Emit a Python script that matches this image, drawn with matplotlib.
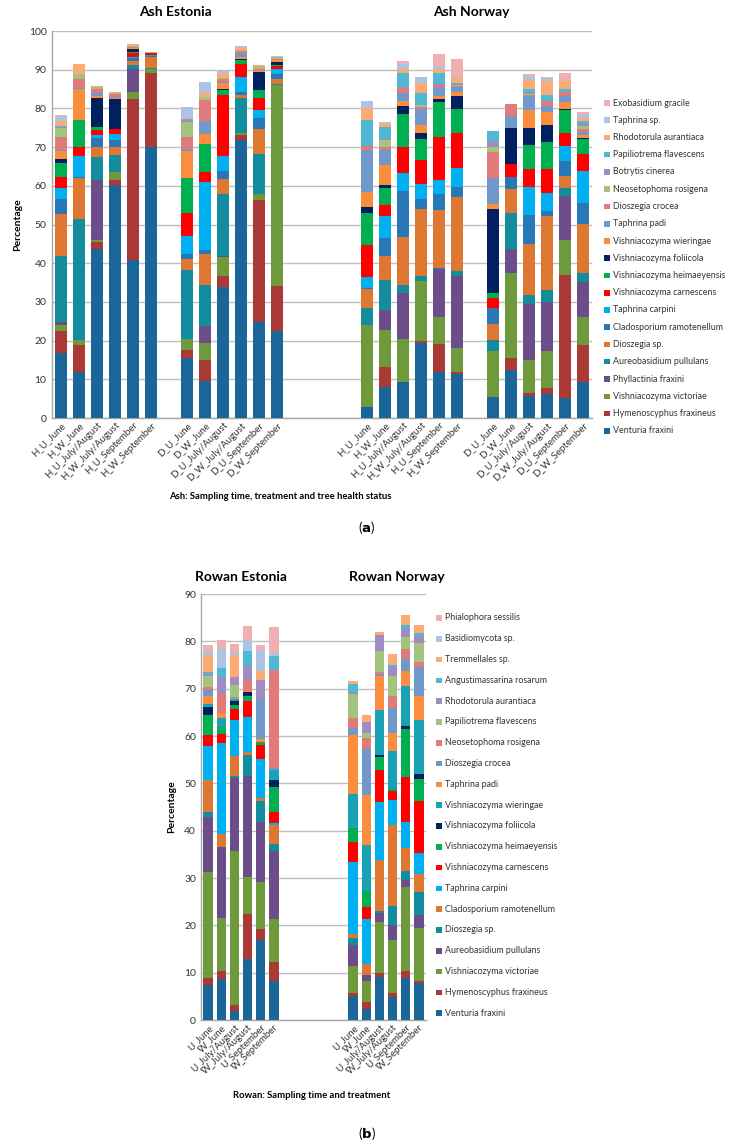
import matplotlib
matplotlib.use('Agg')
import matplotlib.pyplot as plt
from matplotlib.patches import Rectangle
from matplotlib.transforms import ScaledTranslation
import numpy as np

plt.rcParams['font.family'] = ['Lato', 'DejaVu Sans']

W, H = 734, 1145
fig = plt.figure(figsize=(W / 100, H / 100), dpi=100)


def fx(px):
    return px / W


def fy(py):
    return 1 - py / H


# ---------------- Ash data ----------------
ash_categories = ['H_U_June', 'H_W_June', 'H_U_July/August', 'H_W_July/August', 'H_U_September', 'H_W_September', '',
                  'D_U_June', 'D_W_June', 'D_U_July/August', 'D_W_July/August', 'D_U_September', 'D_W_September',
                  '', '', '', '',
                  'H_U_June', 'H_W_June', 'H_U_July/August', 'H_W_July/August', 'H_U_September', 'H_W_September', '',
                  'D_U_June', 'D_W_June', 'D_U_July/August', 'D_W_July/August', 'D_U_September', 'D_W_September']

ash_species = ['Venturia fraxini', 'Hymenoscyphus fraxineus', 'Vishniacozyma victoriae', 'Phyllactinia fraxini',
               'Aureobasidium pullulans', 'Dioszegia sp.', 'Cladosporium ramotenellum', 'Taphrina carpini',
               'Vishniacozyma carnescens', 'Vishniacozyma heimaeyensis', 'Vishniacozyma foliicola',
               'Vishniacozyma wieringae', 'Taphrina padi', 'Dioszegia crocea', 'Neosetophoma rosigena',
               'Botrytis cinerea', 'Papiliotrema flavescens', 'Rhodotorula aurantiaca', 'Taphrina sp.',
               'Exobasidium gracile']

ash_colors = ['#1B6698', '#AB3A37', '#6F9A3B', '#6B4D8A', '#138C9E', '#DE7731', '#2878B8', '#00B0F0',
              '#FF0000', '#00B050', '#002060', '#FB8E3E', '#7098CA', '#E17B7B', '#A3C47C', '#A08BC2',
              '#4FB8D4', '#FDAB74', '#ADC3E2', '#F0B0B2']

ash_venturia = [16.8, 12.0, 43.6, 60.1, 40.7, 69.9, 15.5, 9.6, 33.8, 71.9, 24.7, 22.5,
                2.8, 7.9, 9.3, 19.5, 11.8, 11.4, 5.3, 12.5, 5.8, 6.2, 5.1, 9.2]
ash_hymenoscyphus = [5.8, 6.8, 1.8, 1.3, 41.8, 19.2, 2.1, 5.3, 2.9, 1.1, 31.7, 11.7,
                     0, 5.2, 0, 0.5, 7.4, 0.4, 0, 3.0, 0.6, 1.5, 31.8, 9.7]
ash_victoriae = [1.5, 1.4, 0.5, 2.1, 1.8, 1.0, 2.8, 4.5, 4.9, 0.6, 1.5, 51.8,
                 21.2, 9.7, 11.2, 15.3, 7.0, 6.4, 12.1, 21.9, 8.5, 9.7, 9.1, 7.3]
ash_phyllactinia = [0.7, 0, 15.5, 0, 5.8, 0, 0, 4.4, 0.3, 0, 0, 0,
                    0, 5.1, 11.8, 0, 12.3, 18.6, 0, 6.3, 14.5, 12.7, 11.4, 9.0]
ash_aureobasidium = [17.0, 31.1, 6.1, 4.4, 1.0, 0.4, 17.9, 10.5, 16.0, 9.0, 10.3, 0.3,
                     4.3, 7.8, 2.0, 1.3, 0.2, 1.1, 2.8, 9.4, 2.3, 3.0, 2.1, 2.3]
ash_dioszegia_sp = [11.0, 10.7, 2.4, 2.2, 1.2, 2.7, 2.7, 8.0, 3.8, 0.9, 6.4, 1.3,
                    5.0, 6.2, 12.5, 17.4, 15.0, 19.2, 4.2, 6.1, 13.3, 19.2, 3.0, 12.6]
ash_cladosporium = [3.7, 0.2, 2.4, 1.8, 0.7, 0.4, 1.3, 1.0, 2.2, 0.7, 3.0, 1.3,
                    0.4, 4.6, 11.9, 2.5, 4.3, 2.7, 3.9, 3.2, 7.5, 1.3, 3.9, 5.5]
ash_t_carpini = [3.0, 5.4, 0.7, 1.5, 0.3, 0.2, 4.6, 17.7, 3.8, 4.0, 2.0, 1.3,
                 2.7, 5.6, 4.6, 4.0, 3.6, 4.9, 0, 0, 7.3, 4.5, 3.9, 8.2]
ash_v_carnescens = [2.9, 2.5, 1.3, 1.3, 0.9, 0.4, 6.0, 2.6, 15.7, 3.3, 3.0, 0.7,
                    8.3, 3.0, 6.8, 6.2, 11.0, 8.9, 2.6, 3.3, 4.6, 6.2, 3.4, 4.3]
ash_v_heimaeyensis = [3.6, 6.9, 1.0, 0, 0.3, 0.2, 9.1, 7.1, 1.4, 1.0, 2.2, 0.3,
                      8.2, 4.4, 8.4, 5.3, 9.0, 6.3, 1.4, 0, 6.1, 7.1, 5.9, 3.9]
ash_v_foliicola = [0.9, 0, 7.5, 7.7, 0.8, 0, 0, 0, 0.3, 0.2, 4.7, 0.9,
                   1.6, 0.7, 2.2, 1.6, 0.9, 3.3, 21.7, 9.2, 4.4, 4.2, 0.3, 0.4]
ash_v_wieringae = [2.2, 8.0, 0.4, 0.3, 0.3, 0, 6.9, 2.7, 1.4, 0.7, 0.2, 0.3,
                   3.9, 5.1, 1.2, 2.0, 0.6, 1.1, 1.3, 0, 4.7, 3.5, 1.8, 0.7]
ash_t_padi = [0.2, 0.2, 0.8, 0.3, 0, 0, 0.5, 3.4, 0.3, 1.0, 0, 0.2,
              10.9, 4.0, 2.2, 4.2, 2.5, 1.2, 6.7, 3.2, 3.5, 1.4, 1.5, 0.9]
ash_d_crocea = [3.4, 2.3, 1.1, 0.7, 0.2, 0, 3.1, 5.4, 0.7, 0.4, 0.5, 0.2,
                1.0, 0.6, 1.1, 0.5, 0.6, 0.3, 6.8, 3.1, 0.4, 1.5, 1.1, 0.6]
ash_neosetophoma = [2.3, 1.4, 0.5, 0.3, 0.4, 0.3, 4.1, 0.8, 0.4, 0.3, 0.8, 0.5,
                    0, 2.0, 0.2, 0.7, 0, 0.3, 1.3, 0, 0.3, 0, 0, 0.9]
ash_botrytis = [0.2, 0, 0, 0, 0, 0, 0.4, 0, 0, 0, 0, 0,
                0, 0.4, 0.2, 0, 0, 0.2, 1.4, 0, 0.3, 0, 0, 0.7]
ash_papiliotrema = [0.2, 0, 0, 0, 0, 0, 0.2, 0, 0, 0, 0, 0,
                    6.7, 3.0, 3.5, 3.1, 3.0, 0.2, 2.7, 0, 0.8, 1.5, 0.7, 0.5]
ash_rhodotorula = [1.4, 2.7, 0.2, 0.2, 0.4, 0, 0.4, 1.0, 1.2, 0.4, 0.2, 0,
                   3.2, 0.6, 1.1, 2.4, 1.0, 1.5, 0, 0, 2.4, 3.6, 2.1, 0.8]
ash_taphrina_sp = [1.3, 0, 0, 0, 0, 0, 2.7, 2.7, 0.7, 0.6, 0, 0.3,
                   1.7, 0.3, 1.3, 1.5, 0.7, 0.3, 0, 0, 0.7, 0.8, 0, 0.9]
ash_exobasidium = [0.2, 0, 0, 0, 0, 0, 0, 0, 0, 0, 0, 0,
                   0, 0.4, 0.8, 0, 3.2, 4.4, 0, 0, 0.8, 0.3, 2.1, 0.6]

ash_values = [ash_venturia, ash_hymenoscyphus, ash_victoriae, ash_phyllactinia, ash_aureobasidium,
              ash_dioszegia_sp, ash_cladosporium, ash_t_carpini, ash_v_carnescens, ash_v_heimaeyensis,
              ash_v_foliicola, ash_v_wieringae, ash_t_padi, ash_d_crocea, ash_neosetophoma, ash_botrytis,
              ash_papiliotrema, ash_rhodotorula, ash_taphrina_sp, ash_exobasidium]

# ---------------- Rowan data ----------------
rowan_categories = ['U_June', 'W_June', 'U_July/August', 'W_July/August', 'U_September', 'W_September',
                    '', '', '', '', '',
                    'U_June', 'W_June', 'U_July/August', 'W_July/August', 'U_September', 'W_September']

rowan_species = ['Venturia fraxini', 'Hymenoscyphus fraxineus', 'Vishniacozyma victoriae',
                 'Aureobasidium pullulans', 'Dioszegia sp.', 'Cladosporium ramotenellum', 'Taphrina carpini',
                 'Vishniacozyma carnescens', 'Vishniacozyma heimaeyensis', 'Vishniacozyma foliicola',
                 'Vishniacozyma wieringae', 'Taphrina padi', 'Dioszegia crocea', 'Neosetophoma rosigena',
                 'Papiliotrema flavescens', 'Rhodotorula aurantiaca', 'Angustimassarina rosarum',
                 'Tremmellales sp.', 'Basidiomycota sp.', 'Phialophora sessilis']

rowan_colors = ['#1B6698', '#AB3A37', '#6F9A3B', '#6B4D8A', '#138C9E', '#DE7731', '#00B0F0', '#FF0000',
                '#00B050', '#002060', '#1AA1B6', '#FB8E3E', '#7098CA', '#E17B7B', '#A3C47C', '#A08BC2',
                '#4FB8D4', '#FDAB74', '#ADC3E2', '#F0B0B2']

rw_venturia = [7.3, 8.6, 1.8, 12.8, 16.9, 8.2, 5.1, 2.3, 9.0, 4.8, 8.8, 7.8]
rw_hymenoscyphus = [1.6, 1.7, 1.4, 9.6, 2.3, 4.1, 0.7, 1.4, 1.0, 1.0, 1.6, 0.4]
rw_victoriae = [22.3, 11.2, 32.6, 7.9, 10.0, 9.0, 5.7, 4.6, 10.6, 11.1, 17.7, 11.2]
rw_aureobasidium = [11.6, 15.0, 15.3, 21.3, 12.6, 14.4, 4.4, 1.2, 2.1, 3.2, 1.5, 2.7]
rw_dioszegia_sp = [1.1, 0, 0.5, 4.4, 4.4, 1.4, 1.5, 0, 0.3, 3.9, 1.8, 4.9]
rw_cladosporium = [6.8, 2.9, 4.2, 0.7, 0.6, 4.0, 0.7, 2.3, 10.7, 17.2, 4.9, 3.8]
rw_t_carpini = [7.2, 19.2, 7.5, 7.3, 8.3, 0.5, 15.2, 9.6, 12.4, 5.2, 5.5, 4.4]
rw_v_carnescens = [2.4, 1.9, 2.4, 3.4, 3.0, 2.4, 4.4, 2.4, 6.8, 1.9, 9.5, 11.0]
rw_v_heimaeyensis = [4.2, 1.5, 0.9, 1.1, 0.7, 5.2, 2.8, 3.5, 2.6, 0.5, 10.2, 4.8]
rw_v_foliicola = [1.7, 0, 0.8, 0.7, 0, 1.5, 0, 0, 0.5, 0, 0.7, 1.0]
rw_v_wieringae = [0.5, 1.8, 0.4, 0, 0, 2.2, 7.3, 9.6, 9.5, 8.1, 8.3, 11.4]
rw_t_padi = [1.7, 1.0, 0.2, 0.4, 0.5, 0, 12.5, 10.7, 7.2, 3.8, 3.3, 5.1]
rw_d_crocea = [1.4, 0, 0.3, 0, 8.4, 0.3, 1.4, 9.6, 0.4, 5.3, 2.5, 6.1]
rw_neosetophoma = [0.5, 4.1, 0, 2.2, 0, 20.8, 2.1, 2.4, 0.4, 2.4, 2.1, 1.1]
rw_papiliotrema = [2.3, 0, 2.4, 0, 0, 0, 5.1, 1.1, 4.4, 4.3, 2.5, 3.9]
rw_rhodotorula = [0.4, 3.6, 1.8, 2.9, 4.2, 0, 0.5, 2.3, 3.5, 1.9, 1.7, 1.6]
rw_angustimassarina = [0.5, 1.8, 0, 3.3, 0, 2.9, 1.6, 0, 0, 0.4, 0.9, 0.6]
rw_tremmellales = [3.7, 0, 4.7, 0, 1.9, 0, 0.7, 1.4, 0.5, 2.4, 2.1, 1.7]
rw_basidiomycota = [0.7, 4.1, 0.6, 2.3, 4.4, 0.6, 0, 0, 0, 0, 0, 0]
rw_phialophora = [1.4, 1.9, 1.7, 2.9, 1.1, 5.5, 0, 0, 0, 0, 0, 0]

rowan_values = [rw_venturia, rw_hymenoscyphus, rw_victoriae, rw_aureobasidium, rw_dioszegia_sp,
                rw_cladosporium, rw_t_carpini, rw_v_carnescens, rw_v_heimaeyensis, rw_v_foliicola,
                rw_v_wieringae, rw_t_padi, rw_d_crocea, rw_neosetophoma, rw_papiliotrema, rw_rhodotorula,
                rw_angustimassarina, rw_tremmellales, rw_basidiomycota, rw_phialophora]

TEXT = '#333333'


def draw_panel(ax, categories, values, colors, ymax, width):
    pos = [i for i, c in enumerate(categories) if c]
    labels = [c for c in categories if c]
    bottom = np.zeros(len(pos))
    for vals, col in zip(values, colors):
        v = np.array(vals, dtype=float)
        ax.bar(pos, v, width=width, bottom=bottom, color=col, linewidth=0, zorder=3)
        bottom += v
    ax.set_xlim(-0.5, len(categories) - 0.5)
    ax.set_ylim(0, ymax)
    ax.set_yticks(np.arange(0, ymax + 1, 10))
    ax.yaxis.grid(True, color='#BFBFBF', linewidth=1.0, zorder=0)
    ax.set_axisbelow(True)
    ax.set_xticks(pos)
    ax.set_xticklabels(labels, rotation=45, ha='right', va='top', rotation_mode='anchor', fontsize=7,
                       color=TEXT)
    off = ScaledTranslation(7 / 100, -2 / 100, fig.dpi_scale_trans)
    for lbl in ax.get_xticklabels():
        lbl.set_transform(lbl.get_transform() + off)
    ax.tick_params(axis='x', length=0, pad=2)
    ax.tick_params(axis='y', length=0, labelsize=7.5, labelcolor=TEXT, pad=4)
    for s in ['top', 'right']:
        ax.spines[s].set_visible(False)
    for s in ['left', 'bottom']:
        ax.spines[s].set_color('#A6A6A6')
        ax.spines[s].set_linewidth(1.0)


def draw_legend(species, colors, x_marker, y_first, step, size=5.5):
    n = len(species)
    for i in range(n):
        k = n - 1 - i
        y = y_first + i * step
        fig.add_artist(Rectangle((fx(x_marker - size / 2), fy(y + size / 2)), size / W, size / H,
                                 transform=fig.transFigure, color=colors[k], linewidth=0))
        fig.text(fx(x_marker + 6), fy(y), species[k], fontsize=6.4, va='center', ha='left', color=TEXT)


# ---------------- top panel ----------------
ax1 = fig.add_axes([fx(52), fy(418), (592 - 52) / W, (418 - 31) / H])
draw_panel(ax1, ash_categories, ash_values, ash_colors, 100, 0.68)
fig.text(fx(175), fy(12), 'Ash Estonia', fontsize=10, fontweight='bold', ha='center', va='center')
fig.text(fx(471), fy(12), 'Ash Norway', fontsize=10, fontweight='bold', ha='center', va='center')
fig.text(fx(18), fy(225), 'Percentage', fontsize=7.5, fontweight='bold', rotation=90, ha='center', va='center')
fig.text(fx(280), fy(497), 'Ash: Sampling time, treatment and tree health status', fontsize=6.8,
         fontweight='bold', ha='center', va='center')
draw_legend(ash_species, ash_colors, 607, 103, 17.25)
fig.text(fx(367), fy(527), r'($\mathbf{a}$)', fontsize=9.5, ha='center', va='center')

# ---------------- bottom panel ----------------
ax2 = fig.add_axes([fx(201.5), fy(1020), (425.5 - 201.5) / W, (1020 - 594) / H])
draw_panel(ax2, rowan_categories, rowan_values, rowan_colors, 90, 0.7)
fig.text(fx(241), fy(577), 'Rowan Estonia', fontsize=10, fontweight='bold', ha='center', va='center')
fig.text(fx(397), fy(577), 'Rowan Norway', fontsize=10, fontweight='bold', ha='center', va='center')
fig.text(fx(172), fy(807), 'Percentage', fontsize=7.5, fontweight='bold', rotation=90, ha='center', va='center')
fig.text(fx(312), fy(1095), 'Rowan: Sampling time and treatment', fontsize=6.8, fontweight='bold',
         ha='center', va='center')
draw_legend(rowan_species, rowan_colors, 439, 618, 20.8)
fig.text(fx(367), fy(1133), r'($\mathbf{b}$)', fontsize=9.5, ha='center', va='center')

fig.savefig('out.png', dpi=100, facecolor='white')
